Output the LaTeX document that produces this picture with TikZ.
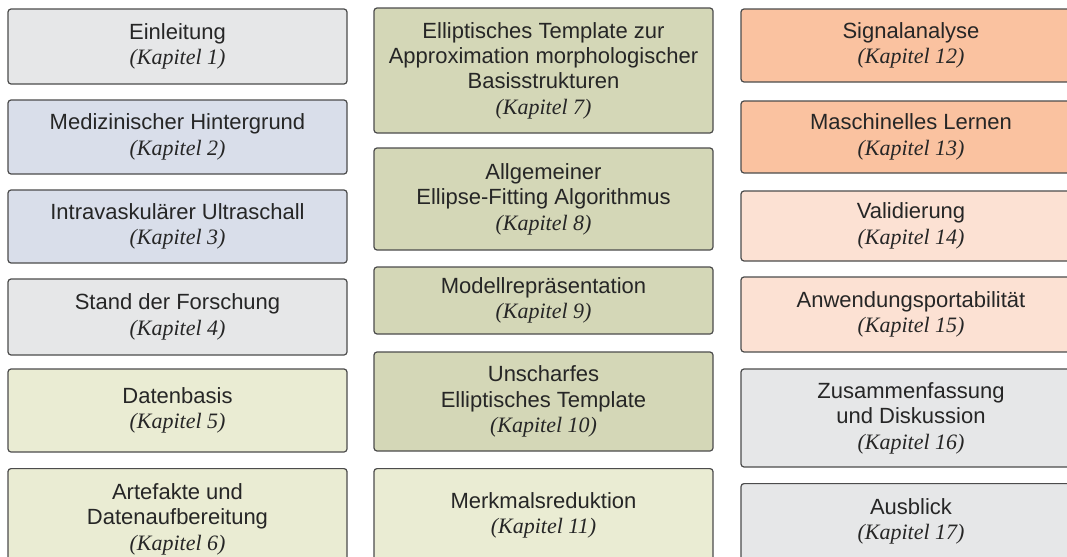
\documentclass[tikz,border=0pt]{standalone}
\usepackage{fontspec}
\setmainfont{Liberation Sans}
\newfontfamily\kapfont{Liberation Serif}
\usetikzlibrary{positioning}

\definecolor{grau}{HTML}{E6E7E8}
\definecolor{blaugrau}{HTML}{D9DEEA}
\definecolor{hellgruen}{HTML}{EAECD3}
\definecolor{oliv}{HTML}{D4D7B7}
\definecolor{orange}{HTML}{FAC2A0}
\definecolor{pfirsich}{HTML}{FCE1D3}

\newcommand{\kapnr}[1]{{\kapfont\itshape (Kapitel #1)}}

\tikzset{
  kasten/.style={draw=black!70,line width=0.6pt,rounded corners=1.5pt,
    align=center,text=black!85,font=\fontsize{11}{12.7}\selectfont,inner sep=0pt},
  offen/.style={anchor=north,text depth=40pt,inner ysep=#1}
}

\begin{document}
\begin{tikzpicture}[x=0.5pt,y=-0.5pt,every node/.style={kasten}]
\useasboundingbox (0,0) rectangle (1067,557);
% linke Spalte
\path[minimum width=169.5pt]
(177.5,46.5) node[fill=grau,minimum height=37.5pt](k1){Einleitung\\\kapnr{1}}
(177.5,137) node[fill=blaugrau,minimum height=37pt](k2){Medizinischer Hintergrund\\\kapnr{2}}
(177.5,226.5) node[fill=blaugrau,minimum height=36.5pt](k3){Intravaskulärer Ultraschall\\\kapnr{3}}
(177.5,317) node[fill=grau,minimum height=38pt](k4){Stand der Forschung\\\kapnr{4}}
(177.5,410.5) node[fill=hellgruen,minimum height=41.5pt](k5){Datenbasis\\\kapnr{5}}
(177.5,468) node[fill=hellgruen,offen=7.5pt](k6){Artefakte und\\Datenaufbereitung\\\kapnr{6}};
% mittlere Spalte
\path[minimum width=169.5pt]
(543.5,70.5) node[fill=oliv,minimum height=62.5pt](k7){Elliptisches Template zur\\Approximation morphologischer\\Basisstrukturen\\\kapnr{7}}
(543.5,199) node[fill=oliv,minimum height=51pt](k8){Allgemeiner\\Ellipse-Fitting Algorithmus\\\kapnr{8}}
(543.5,300.5) node[fill=oliv,minimum height=33.5pt](k9){Modellrepräsentation\\\kapnr{9}}
(543.5,401.5) node[fill=oliv,minimum height=49.5pt](k10){Unscharfes\\Elliptisches Template\\\kapnr{10}}
(543.5,468) node[fill=hellgruen,offen=12pt](k11){Merkmalsreduktion\\\kapnr{11}};
% rechte Spalte
\path[minimum width=170pt]
(911,45.5) node[fill=orange,minimum height=36.5pt](k12){Signalanalyse\\\kapnr{12}}
(911,137) node[fill=orange,minimum height=36pt](k13){Maschinelles Lernen\\\kapnr{13}}
(911,226) node[fill=pfirsich,minimum height=35pt](k14){Validierung\\\kapnr{14}}
(911,314.5) node[fill=pfirsich,minimum height=37.5pt](k15){Anwendungsportabilität\\\kapnr{15}}
(911,418) node[fill=grau,minimum height=49pt](k16){Zusammenfassung\\und Diskussion\\\kapnr{16}}
(911,483) node[fill=grau,offen=7.5pt](k17){Ausblick\\\kapnr{17}};
\end{tikzpicture}
\end{document}
